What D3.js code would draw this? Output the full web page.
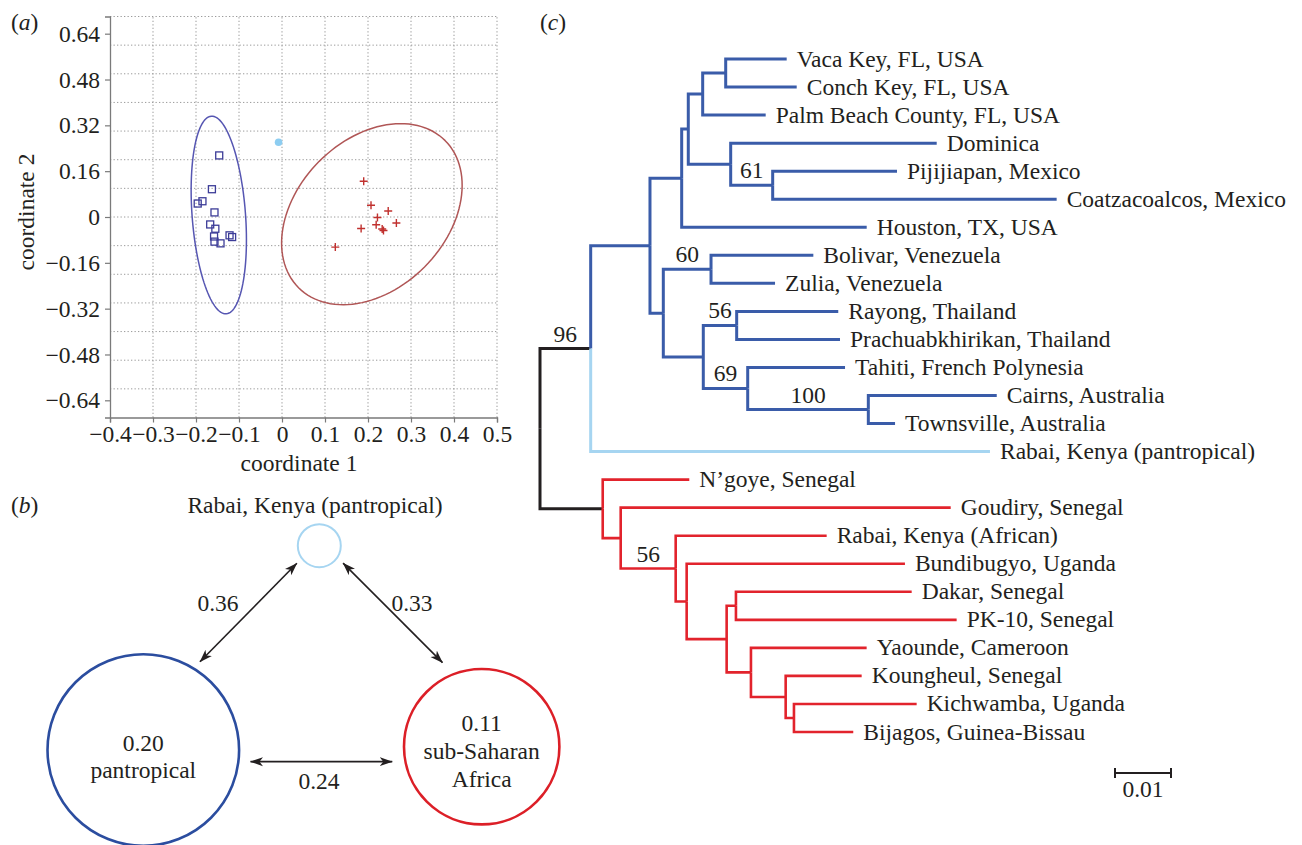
<!DOCTYPE html>
<html>
<head>
<meta charset="utf-8">
<script src="https://cdn.jsdelivr.net/npm/d3@7"></script>
</head>
<body style="margin:0;background:#fff">
<svg id="fig" width="1302" height="845"></svg>
<script>
// ---------- (a) principal coordinates ----------
const pantropicalPts = [
  [-0.146, 0.215], [-0.163, 0.097], [-0.185, 0.055], [-0.196, 0.047],
  [-0.157, 0.016], [-0.167, -0.026], [-0.155, -0.041], [-0.158, -0.068],
  [-0.157, -0.086], [-0.143, -0.092], [-0.122, -0.064], [-0.116, -0.070]
];
const africanPts = [
  [0.190, 0.125], [0.207, 0.041], [0.247, 0.021], [0.222, -0.002],
  [0.219, -0.027], [0.184, -0.040], [0.233, -0.042], [0.236, -0.047],
  [0.266, -0.021], [0.124, -0.105]
];
const rabaiPantPt = [-0.008, 0.261];
// ellipse: centre and two conjugate half-axis vectors (data units)
const pantropicalEllipse = { c: [-0.147, 0.007], u: [-0.0174, 0.345], v: [0.0619, 0.0071] };
const africanEllipse = { c: [0.209, 0.0099], u: [0.1705, 0.2567], v: [0.1225, -0.1844] };
const xTicksA = [-0.4, -0.3, -0.2, -0.1, 0, 0.1, 0.2, 0.3, 0.4, 0.5];
const yTicksA = [-0.64, -0.48, -0.32, -0.16, 0, 0.16, 0.32, 0.48, 0.64];
const xGridA = [-0.3, -0.2, -0.1, 0, 0.1, 0.2, 0.3, 0.4, 0.5];
const yGridA = [-0.6, -0.5, -0.4, -0.3, -0.2, -0.1, 0, 0.1, 0.2, 0.3, 0.4, 0.5, 0.6, 0.7];

// ---------- (b) Fst ----------
const groupNames = ["Rabai, Kenya (pantropical)", "pantropical", "sub-Saharan Africa"];
const withinFst = [null, 0.20, 0.11];
const pairFst = [[1, 0, 0.36], [0, 2, 0.33], [1, 2, 0.24]];

// ---------- (c) tree: [node, parent, branch length] ----------
const treeEdges = [
  ["root", "", 0],
  ["A", "root", 0.00905],
  ["R", "root", 0.0112],
  ["B", "A", 0.01059],
  ["Rabai, Kenya (pantropical)", "A", 0.0713],
  ["C", "B", 0.00566],
  ["D", "B", 0.00238],
  ["E", "C", 0.00118],
  ["Houston, TX, USA", "C", 0.03304],
  ["F", "E", 0.00257],
  ["G", "E", 0.00757],
  ["H", "F", 0.00411],
  ["Palm Beach County, FL, USA", "F", 0.01125],
  ["Vaca Key, FL, USA", "H", 0.01089],
  ["Conch Key, FL, USA", "H", 0.01268],
  ["Dominica", "G", 0.03679],
  ["I", "G", 0.0075],
  ["Pijijiapan, Mexico", "I", 0.0222],
  ["Coatzacoalcos, Mexico", "I", 0.05071],
  ["J", "D", 0.00852],
  ["K", "D", 0.00714],
  ["Bolivar, Venezuela", "J", 0.01827],
  ["Zulia, Venezuela", "J", 0.01143],
  ["L", "K", 0.00596],
  ["M", "K", 0.00793],
  ["Rayong, Thailand", "L", 0.01814],
  ["Prachuabkhirikan, Thailand", "L", 0.01845],
  ["Tahiti, French Polynesia", "M", 0.01738],
  ["N", "M", 0.02154],
  ["Cairns, Australia", "N", 0.02293],
  ["Townsville, Australia", "N", 0.00477],
  ["N\u2019goye, Senegal", "R", 0.01546],
  ["S", "R", 0.00321],
  ["Goudiry, Senegal", "S", 0.05893],
  ["T", "S", 0.00982],
  ["Rabai, Kenya (African)", "T", 0.02696],
  ["U", "T", 0.00196],
  ["Bundibugyo, Uganda", "U", 0.03898],
  ["V", "U", 0.00714],
  ["W", "V", 0.00166],
  ["X", "V", 0.00434],
  ["Dakar, Senegal", "W", 0.03138],
  ["PK-10, Senegal", "W", 0.03941],
  ["Yaounde, Cameroon", "X", 0.02066],
  ["Y", "X", 0.0062],
  ["Koungheul, Senegal", "Y", 0.01357],
  ["Z", "Y", 0.00148],
  ["Kichwamba, Uganda", "Z", 0.02191],
  ["Bijagos, Guinea-Bissau", "Z", 0.01059]
];
const bootstrap = [["A", 96], ["I", 61], ["J", 60], ["L", 56], ["M", 69], ["N", 100], ["T", 56]];
const scaleBarLength = 0.01;

const BLUE = "#3a5ca9", RED = "#e2232c", LIGHT = "#a6d5f1", BLACK = "#231f20";
const FS = 23.5;

const svg = d3.select("#fig")
  .attr("font-family", "Liberation Serif").attr("font-size", FS).attr("fill", BLACK);

// panel letters
const panelLabel = (x, y, letter) => {
  const t = svg.append("text").attr("x", x).attr("y", y);
  t.append("tspan").text("(");
  t.append("tspan").attr("font-style", "italic").text(letter);
  t.append("tspan").text(")");
};
panelLabel(11, 30, "a");
panelLabel(11, 513, "b");
panelLabel(540, 30, "c");

// ================= (a) =================
const xA = d3.scaleLinear().domain([-0.4, 0.5]).range([110, 497]);
const yA = d3.scaleLinear().domain([-0.7, 0.7]).range([417.5, 16.5]);
const gA = svg.append("g");

// dotted grid
gA.selectAll(".vg").data(xGridA).join("line")
  .attr("x1", d => xA(d)).attr("x2", d => xA(d))
  .attr("y1", yA(-0.7)).attr("y2", yA(0.7))
  .attr("stroke", "#9a9a9a").attr("stroke-width", 1).attr("stroke-dasharray", "1.3,2.2");
gA.selectAll(".hg").data(yGridA).join("line")
  .attr("x1", xA(-0.4)).attr("x2", xA(0.5))
  .attr("y1", d => yA(d)).attr("y2", d => yA(d))
  .attr("stroke", "#9a9a9a").attr("stroke-width", 1).attr("stroke-dasharray", "1.3,2.2");

const fmtA = (p) => d => d === 0 ? "0" : d3.format(p)(d);
const xAxisA = gA.append("g").attr("transform", `translate(0,${yA(-0.7)})`)
  .call(d3.axisBottom(xA).tickValues(xTicksA).tickSize(5).tickPadding(3).tickFormat(fmtA(".1f")));
const yAxisA = gA.append("g").attr("transform", `translate(${xA(-0.4)},0)`)
  .call(d3.axisLeft(yA).tickValues(yTicksA).tickSize(5).tickPadding(5).tickFormat(fmtA(".2f")));
[xAxisA, yAxisA].forEach(a => {
  a.attr("font-family", null).attr("font-size", null);
  a.select(".domain").attr("stroke", "#7a7a7a").attr("stroke-width", 1.3);
  a.selectAll(".tick line").attr("stroke", "#7a7a7a").attr("stroke-width", 1.2);
  a.selectAll(".tick text").attr("fill", BLACK);
});

gA.append("text").attr("x", 299).attr("y", 471).attr("text-anchor", "middle").text("coordinate 1");
gA.append("text").attr("transform", "translate(34,212) rotate(-90)").attr("text-anchor", "middle")
  .text("coordinate 2");

// ellipses
const ellipsePts = e => d3.range(0, 121).map(i => {
  const t = i / 120 * 2 * Math.PI;
  return [e.c[0] + e.u[0] * Math.cos(t) + e.v[0] * Math.sin(t),
          e.c[1] + e.u[1] * Math.cos(t) + e.v[1] * Math.sin(t)];
});
const ellLine = d3.line().x(d => xA(d[0])).y(d => yA(d[1])).curve(d3.curveLinearClosed);
gA.append("path").attr("d", ellLine(ellipsePts(pantropicalEllipse)))
  .attr("fill", "none").attr("stroke", "#5656b2").attr("stroke-width", 1.5);
gA.append("path").attr("d", ellLine(ellipsePts(africanEllipse)))
  .attr("fill", "none").attr("stroke", "#b05656").attr("stroke-width", 1.5);

// points
gA.selectAll(".sq").data(pantropicalPts).join("rect")
  .attr("x", d => xA(d[0]) - 3.5).attr("y", d => yA(d[1]) - 3.5)
  .attr("width", 7).attr("height", 7)
  .attr("fill", "none").attr("stroke", "#3c3c98").attr("stroke-width", 1.3);
gA.selectAll(".cr").data(africanPts).join("path")
  .attr("d", d => `M${xA(d[0]) - 4},${yA(d[1])}h8M${xA(d[0])},${yA(d[1]) - 4}v8`)
  .attr("stroke", "#c0302e").attr("stroke-width", 1.4);
gA.append("circle").attr("cx", xA(rabaiPantPt[0])).attr("cy", yA(rabaiPantPt[1])).attr("r", 3.8)
  .attr("fill", "#8dcdf1");

// ================= (b) =================
const gB = svg.append("g");
const nodeLayout = [
  { cx: 319.3, cy: 545.7, r: 21.5, color: LIGHT },
  { cx: 143.3, cy: 750, r: 95.8, color: "#2b4d9f" },
  { cx: 481.7, cy: 746.7, r: 77.7, color: "#dc1f27" }
];
// arrows: anchor angle (deg) and gap on source/target circles, label position
const arrowLayout = [
  { a0: -57.3, g0: 9, a1: 142, g1: 7, lx: 218, ly: 611 },
  { a0: 36.3, g0: 8, a1: -115, g1: 15, lx: 412, ly: 611 },
  { a0: 6.2, g0: 12, a1: 170.5, g1: 13, lx: 319, ly: 789 }
];

const defs = svg.append("defs");
defs.append("marker").attr("id", "ah").attr("viewBox", "0 0 13 10")
  .attr("refX", 12.5).attr("refY", 5).attr("markerWidth", 13).attr("markerHeight", 10)
  .attr("markerUnits", "userSpaceOnUse").attr("orient", "auto-start-reverse")
  .append("path").attr("d", "M0,0.5 L13,5 L0,9.5 L3.5,5 Z").attr("fill", BLACK);

gB.selectAll(".grp").data(groupNames).join("circle")
  .attr("cx", (d, i) => nodeLayout[i].cx).attr("cy", (d, i) => nodeLayout[i].cy)
  .attr("r", (d, i) => nodeLayout[i].r)
  .attr("fill", "none").attr("stroke", (d, i) => nodeLayout[i].color)
  .attr("stroke-width", (d, i) => i === 0 ? 2 : 2.6);

gB.append("text").attr("x", 315).attr("y", 513).attr("text-anchor", "middle").text(groupNames[0]);

const insideLines = [
  [d3.format(".2f")(withinFst[1]), "pantropical"],
  [d3.format(".2f")(withinFst[2]), "sub-Saharan", "Africa"]
];
const insideBase = [[751, 778], [731, 759, 787]];
insideLines.forEach((lines, k) => {
  const n = nodeLayout[k + 1];
  lines.forEach((s, j) => {
    gB.append("text").attr("x", n.cx).attr("y", insideBase[k][j]).attr("text-anchor", "middle").text(s);
  });
});

pairFst.forEach((p, k) => {
  const s = nodeLayout[p[0]], t = nodeLayout[p[1]], L = arrowLayout[k];
  const rad = Math.PI / 180;
  const x0 = s.cx + (s.r + L.g0) * Math.cos(L.a0 * rad), y0 = s.cy + (s.r + L.g0) * Math.sin(L.a0 * rad);
  const x1 = t.cx + (t.r + L.g1) * Math.cos(L.a1 * rad), y1 = t.cy + (t.r + L.g1) * Math.sin(L.a1 * rad);
  gB.append("line").attr("x1", x0).attr("y1", y0).attr("x2", x1).attr("y2", y1)
    .attr("stroke", BLACK).attr("stroke-width", 1.6)
    .attr("marker-start", "url(#ah)").attr("marker-end", "url(#ah)");
  gB.append("text").attr("x", L.lx).attr("y", L.ly).attr("text-anchor", "middle")
    .text(d3.format(".2f")(p[2]));
});

// ================= (c) =================
const gC = svg.append("g");
const root = d3.stratify().id(d => d[0]).parentId(d => d[1])(treeEdges);
const xT = d3.scaleLinear().domain([0, 0.01]).range([540, 596]);
const leaves = root.leaves();
const yT = d3.scalePoint().domain(leaves.map(d => d.id)).range([59, 732]);

root.eachBefore(n => { n.dist = n.parent ? n.parent.dist + n.data[2] : 0; });
root.eachAfter(n => {
  n.py = n.children ? (n.children[0].py + n.children[n.children.length - 1].py) / 2 : yT(n.id);
  n.px = xT(n.dist);
});
// colour by clade
root.eachBefore(n => {
  if (!n.parent || n.parent === root) n.color = BLACK;
  else if (n.id === "Rabai, Kenya (pantropical)") n.color = LIGHT;
  else if (n.parent.id === "A") n.color = BLUE;
  else if (n.parent.id === "R") n.color = RED;
  else n.color = n.parent.color;
});

gC.selectAll(".br").data(root.descendants().filter(n => n.parent)).join("path")
  .attr("d", n => `M${n.parent.px},${n.parent.py}V${n.py}H${n.px}`)
  .attr("fill", "none").attr("stroke", n => n.color)
  .attr("stroke-width", n => n.color === RED ? 2.6 : 3)
  .attr("stroke-linejoin", "miter").attr("stroke-linecap", "butt");

gC.selectAll(".lf").data(leaves).join("text")
  .attr("x", n => n.px + 10).attr("y", n => n.py + 7.5).text(n => n.id);

const byId = new Map(root.descendants().map(n => [n.id, n]));
gC.selectAll(".bs").data(bootstrap).join("text")
  .attr("x", d => { const n = byId.get(d[0]); return (n.px + n.parent.px) / 2; })
  .attr("y", d => byId.get(d[0]).py - 7)
  .attr("text-anchor", "middle").text(d => d[1]);

// scale bar
const sbX = 1115, sbY = 773, sbW = xT(scaleBarLength) - xT(0);
gC.append("path").attr("d", `M${sbX},${sbY - 5}v10M${sbX},${sbY}h${sbW}M${sbX + sbW},${sbY - 5}v10`)
  .attr("fill", "none").attr("stroke", BLACK).attr("stroke-width", 2);
gC.append("text").attr("x", sbX + sbW / 2).attr("y", 797).attr("text-anchor", "middle")
  .text(d3.format(".2f")(scaleBarLength));
</script>
</body>
</html>
